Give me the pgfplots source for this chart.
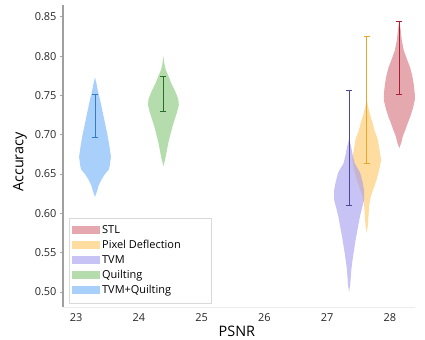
\documentclass[border=0pt]{standalone}
\usepackage{pgfplots}
\pgfplotsset{compat=1.18}
\usepackage{pgfplotstable}
\usepackage{fontspec}
\setmainfont{Open Sans}

\definecolor{redF}{RGB}{213,110,122}
\definecolor{orangeF}{RGB}{255,197,97}
\definecolor{purpleF}{RGB}{163,155,238}
\definecolor{greenF}{RGB}{130,197,117}
\definecolor{blueF}{RGB}{110,177,247}
\definecolor{redL}{RGB}{170,30,50}
\definecolor{orangeL}{RGB}{235,165,40}
\definecolor{purpleL}{RGB}{80,70,150}
\definecolor{greenL}{RGB}{40,110,40}
\definecolor{blueL}{RGB}{50,125,205}

% violin outlines: y and signed half width (px, 63 px = 1 PSNR unit)
\pgfplotstableread{
y h
0.845 0
0.835 1.2
0.820 2.5
0.807 4.5
0.795 8
0.785 11
0.775 13
0.764 14.5
0.752 15.5
0.744 15.5
0.733 13.5
0.723 11
0.715 8.5
0.706 6
0.698 3.5
0.690 2
0.683 0
0.690 -2
0.698 -3.5
0.706 -6
0.715 -8.5
0.723 -11
0.733 -13.5
0.744 -15.5
0.752 -15.5
0.764 -14.5
0.775 -13
0.785 -11
0.795 -8
0.807 -4.5
0.820 -2.5
0.835 -1.2
}\stlV

\pgfplotstableread{
y h
0.745 0
0.735 1.5
0.725 3.5
0.715 6
0.705 8
0.695 11
0.680 13
0.668 14.5
0.655 12.5
0.643 10
0.632 7
0.621 4
0.610 2.5
0.600 2
0.585 1.2
0.575 0
0.585 -1.2
0.600 -2
0.610 -2.5
0.621 -4
0.632 -7
0.643 -10
0.655 -12.5
0.668 -14.5
0.680 -13
0.695 -11
0.705 -8
0.715 -6
0.725 -3.5
0.735 -1.5
}\pdV

\pgfplotstableread{
y h
0.695 0
0.685 2
0.675 3.5
0.664 5.5
0.652 11
0.640 13.5
0.630 15
0.617 15
0.607 13
0.597 11
0.580 8.5
0.566 6.5
0.550 4.5
0.537 3
0.525 2
0.510 1.2
0.500 0
0.510 -1.2
0.525 -2
0.537 -3
0.550 -4.5
0.566 -6.5
0.580 -8.5
0.597 -11
0.607 -13
0.617 -15
0.630 -15
0.640 -13.5
0.652 -11
0.664 -5.5
0.675 -3.5
0.685 -2
}\tvmV

\pgfplotstableread{
y h
0.800 0
0.790 1
0.782 2.5
0.775 5
0.765 8
0.755 12
0.745 15
0.738 15.5
0.730 14
0.720 11.5
0.710 9
0.700 7
0.690 5
0.680 3.5
0.670 2
0.660 0
0.670 -2
0.680 -3.5
0.690 -5
0.700 -7
0.710 -9
0.720 -11.5
0.730 -14
0.738 -15.5
0.745 -15
0.755 -12
0.765 -8
0.775 -5
0.782 -2.5
0.790 -1
}\quiltV

\pgfplotstableread{
y h
0.773 0
0.765 1.5
0.755 3
0.745 5
0.730 7.5
0.715 10
0.700 12.5
0.685 14.5
0.672 16
0.662 15
0.656 14
0.650 10
0.643 6.5
0.635 3.5
0.628 2
0.621 0
0.628 -2
0.635 -3.5
0.643 -6.5
0.650 -10
0.656 -14
0.662 -15
0.672 -16
0.685 -14.5
0.700 -12.5
0.715 -10
0.730 -7.5
0.745 -5
0.755 -3
0.765 -1.5
}\tqV

\begin{document}
\begin{tikzpicture}
\path (-63bp,-32bp) rectangle (362bp,307bp);
\begin{axis}[
  scale only axis,
  width=352bp, height=302bp,
  xmin=22.79, xmax=28.4,
  ymin=0.481, ymax=0.865,
  axis lines=left,
  axis line style={-},
  y axis line style={gray!75, line width=1.2bp},
  x axis line style={gray!15, line width=0.8bp},
  xtick={23,24,25,26,27,28},
  ytick={0.50,0.55,0.60,0.65,0.70,0.75,0.80,0.85},
  xtick style={draw=none},
  ytick style={gray!70, line width=0.6bp},
  tick align=outside,
  major tick length=3bp,
  tick label style={font=\fontsize{11}{13}\selectfont, text=black!85},
  /pgf/number format/assume math mode=true,
  yticklabel style={/pgf/number format/.cd, fixed, fixed zerofill, precision=2},
  xticklabel style={/pgf/number format/.cd, fixed, precision=0},
  xlabel={PSNR},
  ylabel={Accuracy},
  xlabel style={font=\fontsize{14.5}{16}\selectfont, at={(axis description cs:0.494,-0.08)}, anchor=center},
  ylabel style={font=\fontsize{14.5}{16}\selectfont, at={(axis description cs:-0.122,0.48)}, anchor=center},
  legend cell align=left,
  legend style={at={(axis description cs:0.017,0.013)}, anchor=south west,
    draw=gray!30, fill=white, font=\fontsize{11}{13}\selectfont,
    inner xsep=3bp, inner ysep=5bp, row sep=0pt,
    nodes={inner ysep=2bp, text height=8.5bp, text depth=2.5bp},
    /tikz/every even column/.append style={column sep=3bp}},
  legend image code/.code={\fill[#1] (0bp,-4bp) rectangle (28bp,4bp);},
]
\addplot[draw=none, fill=redF, fill opacity=0.6] table[x expr=28.15+\thisrow{h}/63, y=y] {\stlV};
\addlegendentry{STL}
\addplot[draw=none, fill=orangeF, fill opacity=0.6] table[x expr=27.63+\thisrow{h}/63, y=y] {\pdV};
\addlegendentry{\makebox[104bp][l]{Pixel Deflection}}
\addplot[draw=none, fill=purpleF, fill opacity=0.6] table[x expr=27.35+\thisrow{h}/63, y=y] {\tvmV};
\addlegendentry{TVM}
\addplot[draw=none, fill=greenF, fill opacity=0.6] table[x expr=24.39+\thisrow{h}/63, y=y] {\quiltV};
\addlegendentry{Quilting}
\addplot[draw=none, fill=blueF, fill opacity=0.6] table[x expr=23.30+\thisrow{h}/63, y=y] {\tqV};
\addlegendentry{TVM+Quilting}

% error bars
\addplot[redL, line width=0.8bp, mark=-, mark size=3bp, forget plot] coordinates {(28.15,0.751) (28.15,0.844)};
\addplot[orangeL, line width=0.8bp, mark=-, mark size=3bp, forget plot] coordinates {(27.63,0.664) (27.63,0.825)};
\addplot[purpleL, line width=0.8bp, mark=-, mark size=3bp, forget plot] coordinates {(27.35,0.610) (27.35,0.756)};
\addplot[greenL, line width=0.8bp, mark=-, mark size=3bp, forget plot] coordinates {(24.39,0.730) (24.39,0.774)};
\addplot[blueL, line width=0.8bp, mark=-, mark size=3bp, forget plot] coordinates {(23.30,0.697) (23.30,0.751)};
\end{axis}
\end{tikzpicture}
\end{document}
